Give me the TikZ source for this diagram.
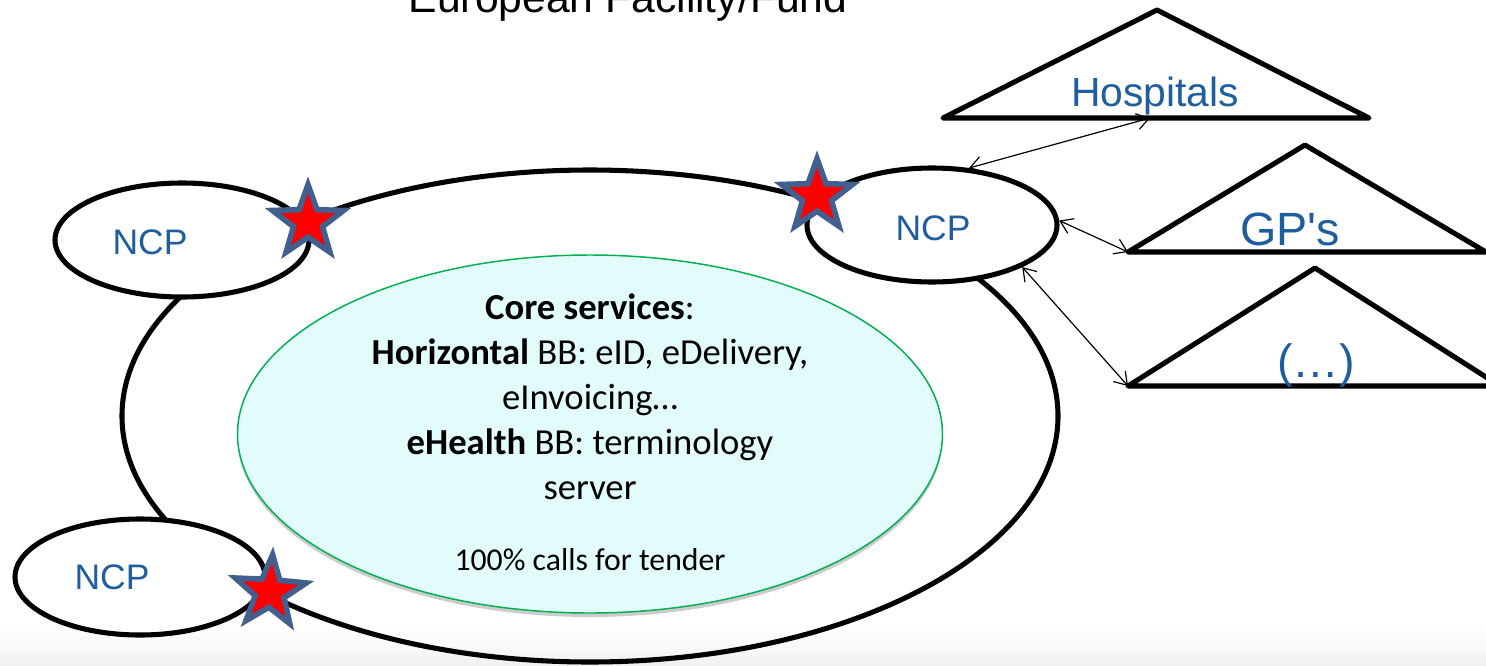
\documentclass[tikz,border=0pt]{standalone}
\usepackage{fontspec}
\setmainfont{Carlito}
\newfontfamily\arialf{Liberation Sans}
\usetikzlibrary{shapes.geometric,arrows.meta,shadows}
\definecolor{ncpblue}{RGB}{31,94,158}
\definecolor{starblue}{RGB}{65,96,143}
\definecolor{coregreen}{RGB}{0,176,80}
\definecolor{corefill}{RGB}{226,251,251}
\definecolor{bgpink}{RGB}{243,240,244}
\begin{document}
\begin{tikzpicture}[x=0.75pt,y=-0.75pt,
  ncpshape/.style={ellipse, draw, line width=3.8pt, fill=white, inner sep=0pt},
  ncptext/.style={font=\arialf\fontsize{26.6}{30}\selectfont, text=ncpblue},
  starshape/.style={star, star points=5, star point ratio=2.45, fill=red, draw=starblue,
                    line width=4.2pt, minimum size=56pt, inner sep=0pt},
  tri/.style={line width=3.8pt, line join=round},
  tritext/.style={font=\arialf\fontsize{30.6}{34}\selectfont, text=ncpblue},
  bigtritext/.style={font=\arialf\fontsize{35}{40}\selectfont, text=ncpblue},
  biarrow/.style={{Straight Barb[length=9pt,width=12pt]}-{Straight Barb[length=9pt,width=12pt]}, line width=0.9pt}
]
\useasboundingbox (0,0) rectangle (1486,665);
\clip (0,0) rectangle (1486,665);

% faint background band at the bottom
\shade[top color=white, bottom color=bgpink] (0,628) rectangle (1486,665);

% title (cut off at the top, as in the reference)
\node[font=\arialf\fontsize{32}{38}\selectfont, anchor=base] (title) at (628,12) {European Facility/Fund};

% big ellipse
\node[ellipse, draw, line width=3.8pt, minimum width=702pt, minimum height=369pt, inner sep=0pt] (big) at (590,416) {};

% core services ellipse
\node[ellipse, draw=coregreen, line width=1.1pt, fill=corefill,
      minimum width=528.75pt, minimum height=268.5pt, inner sep=0pt,
      drop shadow={shadow xshift=0pt, shadow yshift=-3pt, opacity=0.2, fill=black}] (core) at (590,434) {};

\node[align=center, font=\fontsize{27.5}{33.75}\selectfont] (coretext) at (590,397)
  {\textbf{Core services}:\\
   \textbf{Horizontal} BB: eID, eDelivery,\\
   eInvoicing…\\
   \textbf{eHealth} BB: terminology\\
   server};
\node[font=\fontsize{23.8}{28}\selectfont] (tender) at (590,560) {100\% calls for tender};

% NCP ellipses
\node[ncpshape, minimum width=190.5pt, minimum height=85.5pt] (ncpL) at (182,240) {};
\node[ncpshape, minimum width=187.5pt, minimum height=85.5pt] (ncpR) at (932,225) {};
\node[ncpshape, minimum width=187.5pt, minimum height=87pt] (ncpB) at (140,577) {};
\node[ncptext] (ncpLlbl) at (150,242) {NCP};
\node[ncptext] (ncpRlbl) at (933,228) {NCP};
\node[ncptext] (ncpBlbl) at (112,577) {NCP};

% stars
\node[starshape] (starL) at (308,222) {};
\node[starshape] (starR) at (817,196) {};
\node[starshape, rotate=-4] (starB) at (270,592) {};

% triangles
\coordinate (hA) at (1157,10);
\coordinate (hL) at (943,118);
\coordinate (hR) at (1369,118);
\coordinate (hB) at (1150,118);
\draw[tri] (hL) -- (hA) -- (hR) -- cycle;
\node[tritext] (hosp) at (1155,96) {Hospitals};

\coordinate (gA) at (1305,145);
\coordinate (gL) at (1128,252);
\coordinate (gR) at (1486,252);
\draw[tri] (gL) -- (gA) -- (gR) -- cycle;
\node[bigtritext] (gps) at (1290,229) {GP's};

\coordinate (dA) at (1315,268);
\coordinate (dL) at (1128,386);
\coordinate (dR) at (1500,386);
\draw[tri] (dL) -- (dA) -- (dR) -- cycle;
\node[bigtritext] (dots) at (1316,365) {(…)};

% connectors
\draw[biarrow] (ncpR.57) -- (hB);
\draw[biarrow] (ncpR.2) -- (gL);
\draw[biarrow] (ncpR.-25) -- (dL);
\end{tikzpicture}
\end{document}
